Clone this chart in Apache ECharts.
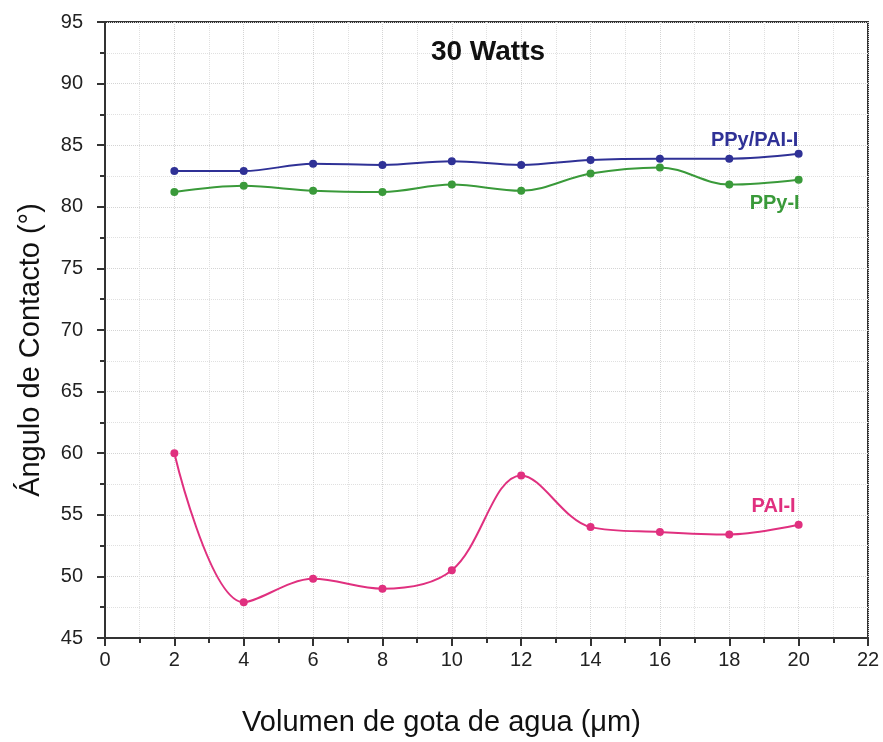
<!DOCTYPE html>
<html><head><meta charset="utf-8">
<script src="https://cdn.jsdelivr.net/npm/echarts@6/dist/echarts.min.js"></script>
<style>html,body{margin:0;padding:0;background:#fff}#c{width:883px;height:742px}</style>
</head><body><div id="c"></div>
<script>
var volumes = [2, 4, 6, 8, 10, 12, 14, 16, 18, 20];
var ppyPai = [82.9, 82.9, 83.5, 83.4, 83.7, 83.4, 83.8, 83.9, 83.9, 84.3];
var ppy = [81.2, 81.7, 81.3, 81.2, 81.8, 81.3, 82.7, 83.2, 81.8, 82.2];
var pai = [60.0, 47.9, 49.8, 49.0, 50.5, 58.2, 54.0, 53.6, 53.4, 54.2];
var xTicks = [0, 2, 4, 6, 8, 10, 12, 14, 16, 18, 20, 22];
var yTicks = [45, 50, 55, 60, 65, 70, 75, 80, 85, 90, 95];

var FONT = '"Liberation Sans", Arial, sans-serif';
function mk(name, vals, color, labelPos, labelOffset) {
  return {
    name: name, type: 'line', smooth: 0.35,
    symbol: 'circle', symbolSize: 8,
    lineStyle: {color: color, width: 2},
    itemStyle: {color: color},
    data: vals.map(function (v, i) {
      var d = {value: [volumes[i], v]};
      if (i === vals.length - 1) {
        d.label = {show: true, position: labelPos, offset: labelOffset, formatter: name,
          color: color, fontFamily: FONT, fontWeight: 'bold', fontSize: 20};
      }
      return d;
    }),
    z: 3
  };
}
var chart = echarts.init(document.getElementById('c'));
chart.setOption({
  animation: false,
  backgroundColor: '#fff',
  title: {text: '30 Watts', left: 483, top: 33, textAlign: 'center',
    textStyle: {fontFamily: FONT, fontWeight: 'bold', fontSize: 28, color: '#111'}},
  grid: {left: 105, right: 15, top: 22, bottom: 101, show: true, borderColor: '#333', borderWidth: 2},
  xAxis: {
    type: 'value', min: 0, max: 22, interval: 2,
    name: 'Volumen de gota de agua (\u03bcm)', nameLocation: 'middle', nameGap: 70,
    nameTextStyle: {fontFamily: FONT, fontSize: 29, color: '#111', padding: [0, 90, 0, 0]},
    axisLine: {lineStyle: {color: '#333', width: 2}},
    axisTick: {length: 8, lineStyle: {color: '#333', width: 2}},
    minorTick: {show: true, splitNumber: 2, length: 5, lineStyle: {color: '#333', width: 2}},
    axisLabel: {fontFamily: FONT, fontSize: 20, color: '#222', margin: 12,
      formatter: function (v) { return xTicks.indexOf(v) >= 0 ? String(v) : ''; }},
    splitLine: {show: true, lineStyle: {color: '#d4d4d4', type: 'dotted', width: 1}},
    minorSplitLine: {show: true, lineStyle: {color: '#e0e0e0', type: 'dotted', width: 1}}
  },
  yAxis: {
    type: 'value', min: 45, max: 95, interval: 5,
    name: '\u00c1ngulo de Contacto (\u00b0)', nameLocation: 'middle', nameGap: 60,
    nameTextStyle: {fontFamily: FONT, fontSize: 29, color: '#111', padding: [0, 40, 0, 0]},
    axisLine: {lineStyle: {color: '#333', width: 2}},
    axisTick: {length: 8, lineStyle: {color: '#333', width: 2}},
    minorTick: {show: true, splitNumber: 2, length: 5, lineStyle: {color: '#333', width: 2}},
    axisLabel: {fontFamily: FONT, fontSize: 20, color: '#222', margin: 22,
      formatter: function (v) { return yTicks.indexOf(v) >= 0 ? String(v) : ''; }},
    splitLine: {show: true, lineStyle: {color: '#d4d4d4', type: 'dotted', width: 1}},
    minorSplitLine: {show: true, lineStyle: {color: '#e0e0e0', type: 'dotted', width: 1}}
  },
  series: [
    mk('PPy/PAI-I', ppyPai, '#2f3196', 'top', [-44, 6]),
    mk('PPy-I', ppy, '#3a9a3a', 'bottom', [-24, 5]),
    mk('PAI-I', pai, '#e0307f', 'top', [-25, 1])
  ]
});
</script></body></html>
